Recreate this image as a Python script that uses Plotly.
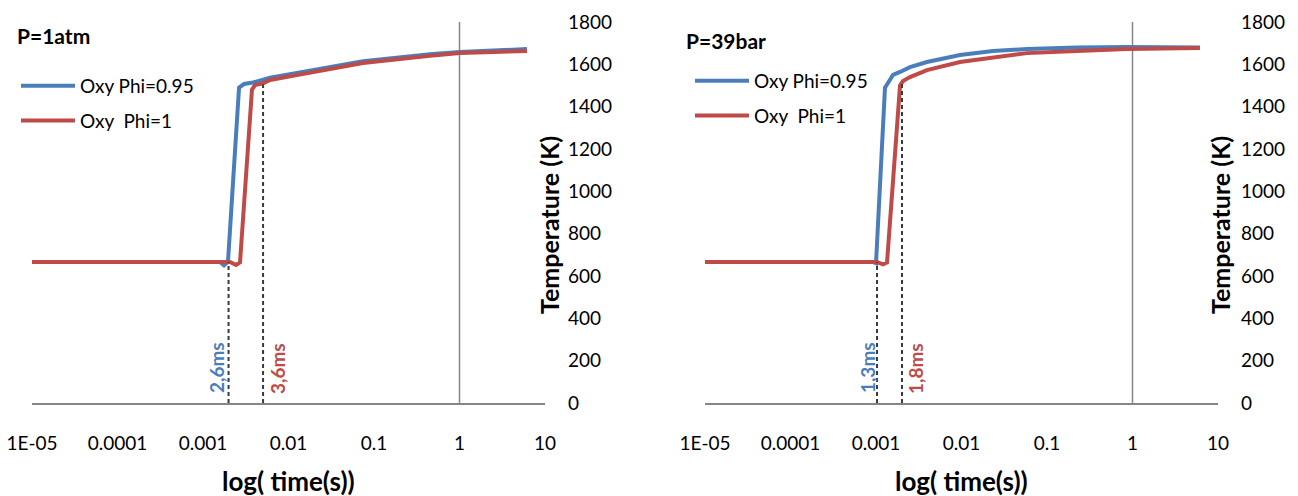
import plotly.graph_objects as go

# ---------------- data ----------------
tick_vals = [1e-5, 1e-4, 1e-3, 1e-2, 1e-1, 1, 10]
tick_text = ["1E-05", "0.0001", "0.001", "0.01", "0.1", "1", "10"]
y_ticks = [0, 200, 400, 600, 800, 1000, 1200, 1400, 1600, 1800]

# P = 1 atm
atm_blue_t = [1e-5, 0.00158, 0.00176, 0.00196, 0.00264, 0.00302, 0.00385, 0.00608, 0.01256, 0.0743, 0.452, 1.014, 6.15]
atm_blue_T = [666, 666, 650, 668, 1490, 1507, 1514, 1537, 1559, 1615, 1648, 1658, 1672]
atm_red_t = [1e-5, 0.00207, 0.00243, 0.00271, 0.00374, 0.00406, 0.00504, 0.00608, 0.01256, 0.0743, 0.452, 1.014, 6.15]
atm_red_T = [666, 666, 652, 664, 1480, 1502, 1510, 1526, 1549, 1606, 1640, 1653, 1663]
atm_marks_t = [0.00199, 0.00504]
atm_marks_T = [666, 1505]
atm_marks_text = ["2,6ms", "3,6ms"]

# P = 39 bar
bar_blue_t = [1e-5, 0.000923, 0.001000, 0.001274, 0.001380, 0.001580, 0.001910, 0.002500, 0.003945, 0.00960, 0.02333, 0.0583, 0.2244, 0.863, 6.15]
bar_blue_T = [666, 666, 660, 1490, 1512, 1550, 1564, 1587, 1611, 1644, 1663, 1672, 1680, 1682, 1680]
bar_red_t = [1e-5, 0.001028, 0.001208, 0.001346, 0.001910, 0.002070, 0.002500, 0.003945, 0.00960, 0.02333, 0.0583, 0.2244, 0.863, 6.15]
bar_red_T = [666, 666, 655, 664, 1500, 1521, 1540, 1573, 1611, 1634, 1653, 1663, 1672, 1677]
bar_marks_t = [0.001028, 0.002014]
bar_marks_T = [666, 1516]
bar_marks_text = ["1,3ms", "1,8ms"]

series_names = ["Oxy Phi=0.95", "Oxy  Phi=1"]
panel_titles = ["P=1atm", "P=39bar"]

BLUE = "#4A7EBB"
RED = "#BE4B48"
GRAY = "#868686"
FONT = "Lato, 'Open Sans', sans-serif"

W, H = 1298, 496


def px(x):
    return x / W


def py(y):
    return 1 - y / H


fig = go.Figure()

panels = [
    dict(xa="x", ya="y", leg="legend",
         data=[(atm_blue_t, atm_blue_T, BLUE), (atm_red_t, atm_red_T, RED)],
         mt=atm_marks_t, mT=atm_marks_T),
    dict(xa="x2", ya="y2", leg="legend2",
         data=[(bar_blue_t, bar_blue_T, BLUE), (bar_red_t, bar_red_T, RED)],
         mt=bar_marks_t, mT=bar_marks_T),
]

for p in panels:
    for i, (t, T, c) in enumerate(p["data"]):
        fig.add_trace(go.Scatter(
            x=t, y=T, mode="lines", name=series_names[i],
            line=dict(color=c, width=4),
            xaxis=p["xa"], yaxis=p["ya"], legend=p["leg"],
            legendgroup=p["leg"] + str(i),
        ))
    for t, T in zip(p["mt"], p["mT"]):
        fig.add_trace(go.Scatter(
            x=[t, t], y=[0, T], mode="lines", showlegend=False,
            line=dict(color="#3a3a3a", width=2, dash="4px,3px"),
            xaxis=p["xa"], yaxis=p["ya"], hoverinfo="skip",
        ))

x_domains = [[px(32), px(545)], [px(705), px(1218)]]
y_domain = [py(403), py(22)]

common_x = dict(type="log", range=[-5, 1], tickvals=tick_vals, ticktext=tick_text,
                showgrid=False, zeroline=False, showline=True, linecolor=GRAY,
                linewidth=2, ticks="", ticklabelstandoff=22, automargin=False,
                tickfont=dict(family=FONT, size=19, color="black"))
common_y = dict(range=[0, 1800], tickvals=y_ticks, showgrid=False, zeroline=False,
                showline=False, side="right", ticks="", ticklabelstandoff=22,
                automargin=False,
                tickfont=dict(family=FONT, size=19, color="black"), domain=y_domain)

fig.update_layout(
    width=W, height=H,
    margin=dict(l=0, r=0, t=0, b=0, autoexpand=False),
    paper_bgcolor="white", plot_bgcolor="white",
    xaxis=dict(common_x, domain=x_domains[0], anchor="y"),
    yaxis=dict(common_y, anchor="x"),
    xaxis2=dict(common_x, domain=x_domains[1], anchor="y2"),
    yaxis2=dict(common_y, anchor="x2"),
    legend=dict(x=px(16), y=py(67), xanchor="left", yanchor="top", itemwidth=54,
                font=dict(family=FONT, size=19, color="black"),
                bgcolor="rgba(0,0,0,0)", tracegroupgap=7, traceorder="grouped"),
    legend2=dict(x=px(690), y=py(62), xanchor="left", yanchor="top", itemwidth=54,
                 font=dict(family=FONT, size=19, color="black"),
                 bgcolor="rgba(0,0,0,0)", tracegroupgap=7, traceorder="grouped"),
    showlegend=True,
)

# vertical axis lines at x = 1 (Excel crossing)
for xa, ya in [("x", "y"), ("x2", "y2")]:
    fig.add_shape(type="line", xref=xa, yref=ya, x0=1, x1=1, y0=0, y1=1800,
                  line=dict(color=GRAY, width=1.5), layer="below")

annotations = []
label_specs = [
    ("x", "y", atm_marks_text[0], -2.848, BLUE),
    ("x", "y", atm_marks_text[1], -2.135, RED),
    ("x2", "y2", bar_marks_text[0], -3.105, BLUE),
    ("x2", "y2", bar_marks_text[1], -2.544, RED),
]
for xa, ya, txt, lx, col in label_specs:
    annotations.append(dict(xref=xa, yref=ya, x=lx, y=165, text="<b>" + txt + "</b>",
                            textangle=-90, showarrow=False,
                            font=dict(family=FONT, size=19, color=col)))

# panel titles
annotations.append(dict(xref="paper", yref="paper", x=px(15), y=py(35), xanchor="left",
                        yanchor="middle", text="<b>" + panel_titles[0] + "</b>", showarrow=False,
                        font=dict(family=FONT, size=21, color="black")))
annotations.append(dict(xref="paper", yref="paper", x=px(684), y=py(40), xanchor="left",
                        yanchor="middle", text="<b>" + panel_titles[1] + "</b>", showarrow=False,
                        font=dict(family=FONT, size=21, color="black")))
# axis titles
for cx in [288, 961]:
    annotations.append(dict(xref="paper", yref="paper", x=px(cx), y=py(481), xanchor="center",
                            yanchor="middle", text="<b>log( time(s))</b>", showarrow=False,
                            font=dict(family=FONT, size=26, color="black")))
for cx in [549, 1220]:
    annotations.append(dict(xref="paper", yref="paper", x=px(cx), y=py(225), xanchor="center",
                            yanchor="middle", text="<b>Temperature (K)</b>", textangle=-90,
                            showarrow=False, font=dict(family=FONT, size=25, color="black")))

fig.update_layout(annotations=annotations)

fig.write_html("out.html")
